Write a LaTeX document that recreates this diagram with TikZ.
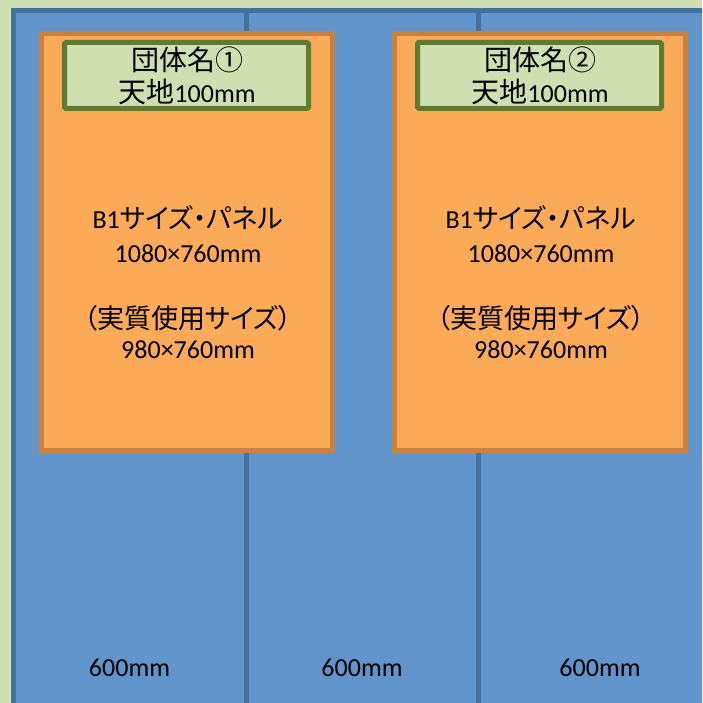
\documentclass[tikz,border=0pt]{standalone}
\usepackage{fontspec}
\setmainfont{Carlito}
\newfontfamily\jp{Noto Sans CJK JP}
\newfontfamily\jpp[RawFeature=+palt]{Noto Sans CJK JP}
\newcommand\kj[1]{{\jp\fontsize{28}{30}\selectfont #1}}
\newcommand\kp[1]{{\jpp\fontsize{27}{30}\selectfont #1}}
\definecolor{bggreen}{HTML}{D0DFAF}
\definecolor{panelblue}{HTML}{6194CA}
\definecolor{paneledge}{HTML}{44719E}
\definecolor{boxorange}{HTML}{FBAA58}
\definecolor{boxedge}{HTML}{C8803F}
\definecolor{headedge}{HTML}{607A34}
\tikzset{
  panel/.style={draw=paneledge, fill=panelblue, line width=5pt, inner sep=0pt, outer sep=0pt,
    minimum width=232.5pt, minimum height=760pt, anchor=north west},
  board/.style={draw=boxedge, fill=boxorange, line width=5pt, inner sep=0pt, outer sep=0pt,
    minimum width=291pt, minimum height=417pt, anchor=north west},
  head/.style={draw=headedge, fill=bggreen, line width=5pt, inner sep=0pt, outer sep=0pt,
    minimum width=244pt, minimum height=66pt, anchor=north west, rounded corners=1.5pt},
  txt/.style={inner sep=0pt, text height=17pt, text depth=0pt, font=\fontsize{26}{30}\selectfont},
}
\begin{document}
\begin{tikzpicture}[x=1pt,y=-1pt]
\useasboundingbox (0,0) rectangle (702,703);
\clip (0,0) rectangle (702,703);
\fill[bggreen] (0,0) rectangle (702,703);
% panels
\node[panel] (p1) at (13.5,10.5) {};
\node[panel] (p2) at (246,10.5) {};
\node[panel] (p3) at (478.5,10.5) {};
% boards
\node[board] (b1) at (41.5,33.5) {};
\node[board] (b2) at (394.5,33.5) {};
% headers
\node[head] (h1) at (64.5,42.5) {};
\node[head] (h2) at (417.5,42.5) {};
% header texts
\node[txt] (h1a) at (187,62) {\kj{団体名①}};
\node[txt] (h1b) at (187,94) {\kj{天地}100mm};
\node[txt] (h2a) at (540,62) {\kj{団体名②}};
\node[txt] (h2b) at (540,94) {\kj{天地}100mm};
% board texts
\node[txt] (t1a) at (188,220) {B1\kp{サイズ・パネル}};
\node[txt] (t1b) at (188,254) {1080×760mm};
\node[txt] (t1c) at (188,320) {\kp{（実質使用サイズ）}};
\node[txt] (t1d) at (188,350) {980×760mm};
\node[txt] (t2a) at (541,220) {B1\kp{サイズ・パネル}};
\node[txt] (t2b) at (541,254) {1080×760mm};
\node[txt] (t2c) at (541,320) {\kp{（実質使用サイズ）}};
\node[txt] (t2d) at (541,350) {980×760mm};
% widths
\node[txt] (w1) at (129.5,668) {600mm};
\node[txt] (w2) at (362,668) {600mm};
\node[txt] (w3) at (600,668) {600mm};
\end{tikzpicture}
\end{document}
